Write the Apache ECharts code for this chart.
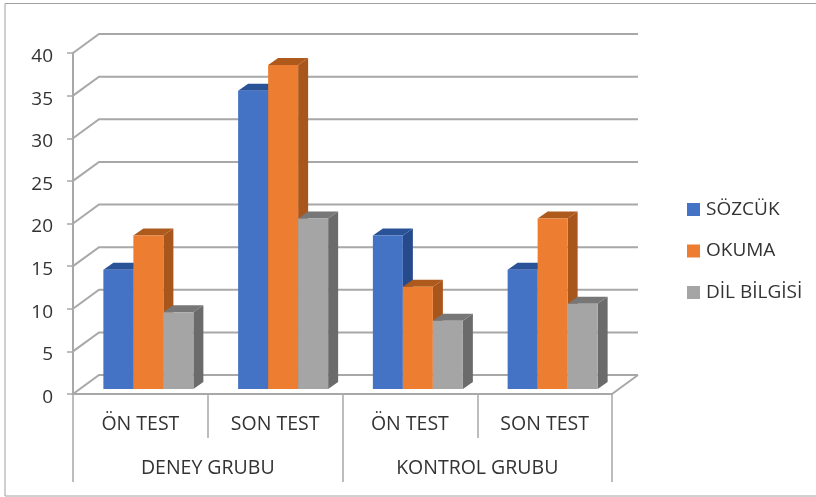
<!DOCTYPE html>
<html lang="tr">

<head>
  <meta charset="utf-8">
  <title>Deney ve kontrol grubu</title>
  <script src="https://cdn.jsdelivr.net/npm/echarts@6/dist/echarts.min.js"></script>
  <style>
    html, body { margin: 0; padding: 0; background: #fff; }
    #main { width: 816px; height: 497px; }
  </style>
</head>

<body>
  <div id="main"></div>

  <script>
    var testLabels = ['ÖN TEST', 'SON TEST', 'ÖN TEST', 'SON TEST'];
    var groupLabels = ['DENEY GRUBU', 'KONTROL GRUBU'];
    var yTicks = [0, 5, 10, 15, 20, 25, 30, 35, 40];
    var sozcuk = [14, 35, 18, 14];
    var okuma = [18, 38, 12, 20];
    var dilBilgisi = [9, 20, 8, 10];

    var fontName = '"Open Sans", sans-serif';
    var textColor = '#333333';
    var lineColor = '#a8a8a8';

    // 3B görünüm için piksel kaydırmaları
    var wallDx = 26, wallDy = -19;
    var barDx = 8, barDy = -5;
    var depthDx = 10, depthDy = -7;
    var barShare = 30 / 134.75;

    function pts(list) {
      return { points: list };
    }

    // arka duvar çizgileri ve taban
    function renderWall(params, api) {
      var v = api.value(0);
      var y = api.coord([0, v])[1];
      var rect = params.coordSys;
      var left = rect.x, right = rect.x + rect.width;
      var children = [{
        type: 'polyline',
        shape: pts([[left, y], [left + wallDx, y + wallDy], [right + wallDx, y + wallDy]]),
        style: { stroke: lineColor, lineWidth: 2, fill: null }
      }];
      if (v === 0) {
        children.push({
          type: 'line',
          shape: { x1: right, y1: y, x2: right + wallDx, y2: y + wallDy },
          style: { stroke: lineColor, lineWidth: 2 }
        });
      }
      return { type: 'group', children: children };
    }

    function barRenderer(order, front, top, side) {
      return function (params, api) {
        var cat = api.value(0);
        var base = api.coord([cat, 0]);
        var head = api.coord([cat, api.value(1)]);
        var w = api.size([1, 0])[0] * barShare;
        var x0 = base[0] + barDx + (order - 1.5) * w;
        var x1 = x0 + w;
        var yb = base[1] + barDy;
        var yt = head[1] + barDy;
        return {
          type: 'group',
          children: [{
            type: 'polygon',
            shape: pts([[x1, yb], [x1 + depthDx, yb + depthDy], [x1 + depthDx, yt + depthDy], [x1, yt]]),
            style: { fill: side }
          }, {
            type: 'polygon',
            shape: pts([[x0, yt], [x0 + depthDx, yt + depthDy], [x1 + depthDx, yt + depthDy], [x1, yt]]),
            style: { fill: top }
          }, {
            type: 'rect',
            shape: { x: x0, y: yt, width: w, height: yb - yt },
            style: { fill: front }
          }]
        };
      };
    }

    function barSeries(name, values, order, front, top, side) {
      return {
        name: name,
        type: 'custom',
        xAxisIndex: 0,
        yAxisIndex: 0,
        clip: false,
        silent: true,
        z: 3,
        itemStyle: { color: front },
        encode: { x: 0, y: 1 },
        data: values.map(function (v, i) { return [i, v]; }),
        renderItem: barRenderer(order, front, top, side)
      };
    }

    var myChart = echarts.init(document.getElementById('main'), null, { renderer: 'canvas' });

    var option = {
      animation: false,
      backgroundColor: '#ffffff',
      textStyle: { fontFamily: fontName },
      graphic: [{
        type: 'rect',
        z: 0,
        shape: { x: 5, y: 3.5, width: 815, height: 492.5 },
        style: { fill: null, stroke: '#a0a0a0', lineWidth: 1 }
      }],
      grid: { left: 73, right: 204, top: 53, bottom: 103 },
      legend: {
        left: 687,
        top: 200,
        padding: 0,
        orient: 'vertical',
        itemWidth: 13,
        itemHeight: 13,
        itemGap: 22.5,
        icon: 'rect',
        selectedMode: false,
        textStyle: { fontFamily: fontName, fontSize: 19, color: textColor, padding: [0, 0, 0, 1] },
        data: ['SÖZCÜK', 'OKUMA', 'DİL BİLGİSİ']
      },
      xAxis: [{
        type: 'category',
        position: 'bottom',
        data: testLabels,
        boundaryGap: true,
        axisLine: { lineStyle: { color: lineColor, width: 2 } },
        axisTick: { show: true, length: 44, lineStyle: { color: lineColor, width: 1.5 } },
        axisLabel: { margin: 20, fontSize: 19.5, color: textColor, fontFamily: fontName }
      }, {
        type: 'category',
        position: 'bottom',
        data: groupLabels,
        boundaryGap: true,
        axisLine: { show: false },
        axisTick: { show: true, length: 88, lineStyle: { color: lineColor, width: 1.5 } },
        axisLabel: { margin: 64, fontSize: 19.5, color: textColor, fontFamily: fontName }
      }],
      yAxis: [{
        type: 'value',
        min: 0,
        max: 40,
        interval: 5,
        splitLine: { show: false },
        axisLine: { show: true, lineStyle: { color: lineColor, width: 2 } },
        axisTick: { show: true, length: 6, lineStyle: { color: lineColor, width: 1.5 } },
        axisLabel: { margin: 20, fontSize: 19, color: textColor, fontFamily: fontName, verticalAlign: 'top', lineHeight: 7 }
      }],
      series: [{
        name: 'wall',
        type: 'custom',
        xAxisIndex: 0,
        yAxisIndex: 0,
        clip: false,
        silent: true,
        z: 1,
        encode: { y: 0 },
        data: yTicks.map(function (v) { return [v]; }),
        renderItem: renderWall
      },
      barSeries('SÖZCÜK', sozcuk, 0, '#4472c4', '#2a5296', '#264a8c'),
      barSeries('OKUMA', okuma, 1, '#ed7d31', '#ae5a1c', '#a9561c'),
      barSeries('DİL BİLGİSİ', dilBilgisi, 2, '#a5a5a5', '#777777', '#6b6b6b')]
    };

    myChart.setOption(option);
  </script>
</body>

</html>
